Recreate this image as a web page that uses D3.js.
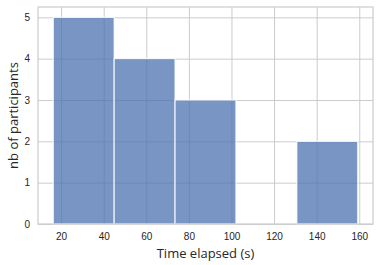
<!DOCTYPE html>
<html>
<head>
<meta charset="utf-8">
<script src="https://cdn.jsdelivr.net/npm/d3@7"></script>
<style>
  body { margin: 0; background: #fff; }
  svg { display: block; font-family: "Open Sans", "Noto Sans", sans-serif; }
</style>
</head>
<body>
<svg width="378" height="265"></svg>
<script>
// bin edges (s) and counts per bin
const binEdges = [16.3, 44.9, 73.5, 102.1, 130.7, 159.3];
const counts = [5, 4, 3, 0, 2];
const xTicks = [20, 40, 60, 80, 100, 120, 140, 160];
const yTicks = [0, 1, 2, 3, 4, 5];

const svg = d3.select('svg');
const margin = { left: 38, right: 5, top: 7, bottom: 41 };
const width = 378 - margin.left - margin.right;
const height = 265 - margin.top - margin.bottom;

const bins = counts.map((c, i) => ({ x0: binEdges[i], x1: binEdges[i + 1], n: c }));

const span = binEdges[binEdges.length - 1] - binEdges[0];
const x = d3.scaleLinear()
    .domain([binEdges[0] - span * 0.05, binEdges[binEdges.length - 1] + span * 0.05])
    .range([0, width]);
const y = d3.scaleLinear()
    .domain([0, d3.max(counts) * 1.05])
    .range([height, 0]);

const g = svg.append('g')
    .attr('transform', `translate(${margin.left},${margin.top})`);

// grid
g.append('g')
    .call(d3.axisBottom(x).tickValues(xTicks).tickSize(height).tickFormat(''))
    .call(s => s.select('.domain').remove())
    .selectAll('line').attr('stroke', '#cccccc');
g.append('g')
    .call(d3.axisLeft(y).tickValues(yTicks).tickSize(-width).tickFormat(''))
    .call(s => s.select('.domain').remove())
    .selectAll('line').attr('stroke', '#cccccc');

// bars
g.selectAll('.bar')
    .data(bins.filter(d => d.n > 0))
    .join('rect')
    .attr('class', 'bar')
    .attr('x', d => x(d.x0))
    .attr('y', d => y(d.n))
    .attr('width', d => x(d.x1) - x(d.x0))
    .attr('height', d => height - y(d.n))
    .attr('fill', '#4c72b0')
    .attr('fill-opacity', 0.75)
    .attr('stroke', '#fff')
    .attr('stroke-width', 1);

// frame
g.append('rect')
    .attr('width', width).attr('height', height)
    .attr('fill', 'none').attr('stroke', '#cccccc').attr('stroke-width', 1.2);

// tick labels
const xAxis = g.append('g')
    .attr('transform', `translate(0,${height})`)
    .call(d3.axisBottom(x).tickValues(xTicks).tickSize(0).tickPadding(9));
xAxis.select('.domain').remove();
xAxis.selectAll('text').attr('fill', '#262626').style('font-size', '10px');

const yAxis = g.append('g')
    .call(d3.axisLeft(y).tickValues(yTicks).tickFormat(d3.format('d')).tickSize(0).tickPadding(8));
yAxis.select('.domain').remove();
yAxis.selectAll('text').attr('fill', '#262626').style('font-size', '10px');

// axis labels
svg.append('text')
    .attr('x', margin.left + width / 2)
    .attr('y', 258)
    .attr('text-anchor', 'middle')
    .attr('fill', '#262626')
    .style('font-size', '13px')
    .text('Time elapsed (s)');

svg.append('text')
    .attr('transform', `translate(18,${margin.top + height / 2}) rotate(-90)`)
    .attr('text-anchor', 'middle')
    .attr('fill', '#262626')
    .style('font-size', '13px')
    .text('nb of participants');
</script>
</body>
</html>
